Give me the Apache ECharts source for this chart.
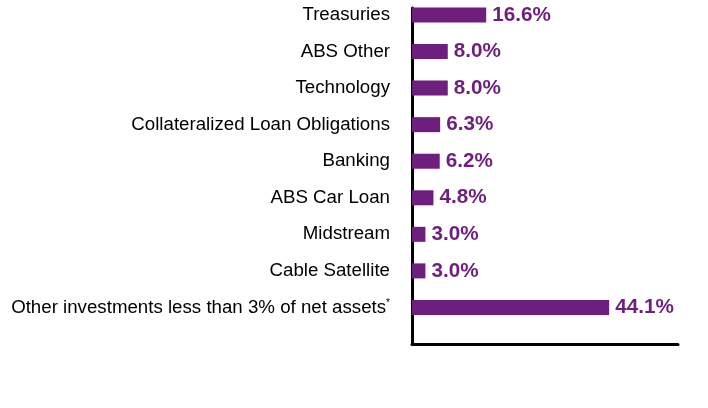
<!DOCTYPE html>
<html>
<head>
<meta charset="utf-8">
<script src="https://cdn.jsdelivr.net/npm/echarts@6/dist/echarts.min.js"></script>
<style>
  html, body { margin: 0; padding: 0; background: #fff; }
  #container { width: 708px; height: 408px; }
</style>
</head>
<body>
<div id="container"></div>
<script>
// holdings by sector, top to bottom
var categories = ['Treasuries', 'ABS Other', 'Technology', 'Collateralized Loan Obligations',
  'Banking', 'ABS Car Loan', 'Midstream', 'Cable Satellite',
  'Other investments less than 3% of net assets'];
var shares = [16.6, 8.0, 8.0, 6.3, 6.2, 4.8, 3.0, 3.0, 44.1];
var footnoted = ['Other investments less than 3% of net assets'];

var purple = '#6E1F7E';
var font = "'Liberation Sans', Arial, sans-serif";

// one empty slot at the bottom so the last bar sits a step above the x axis
var yData = categories.concat(['']);
var barData = shares.concat([null]);

var option = {
  animation: false,
  grid: [
    { left: 412, right: 30, top: 15, bottom: 64 },
    { left: 412, right: 30, top: 8, bottom: 64 }
  ],
  xAxis: [
    {
      type: 'value', gridIndex: 0, min: 0, max: 59.5,
      axisLine: { show: true, lineStyle: { color: '#000', width: 3 } },
      axisTick: { show: false }, axisLabel: { show: false },
      splitLine: { show: false }
    },
    { type: 'value', gridIndex: 1, show: false }
  ],
  yAxis: [
    {
      type: 'category', gridIndex: 0, inverse: true, boundaryGap: false,
      data: yData,
      axisLine: { show: true, lineStyle: { color: '#000', width: 3 } },
      axisTick: { show: false },
      axisLabel: {
        margin: 22, color: '#000', fontSize: 18.7, fontFamily: font,
        formatter: function (v) {
          return footnoted.indexOf(v) >= 0 ? v + '{sup|*}' : v;
        },
        rich: { sup: { fontSize: 10, fontFamily: font, color: '#000', padding: [0, 0, 9, 0] } }
      },
      splitLine: { show: false }
    },
    {
      // only draws the taller left axis line
      type: 'value', gridIndex: 1,
      axisLine: { show: true, lineStyle: { color: '#000', width: 3 } },
      axisTick: { show: false }, axisLabel: { show: false },
      splitLine: { show: false }
    }
  ],
  series: [{
    type: 'bar',
    xAxisIndex: 0, yAxisIndex: 0,
    data: barData,
    barWidth: 15,
    itemStyle: { color: purple },
    label: {
      show: true, position: 'right', distance: 6,
      color: purple, fontSize: 20.7, fontWeight: 'bold', fontFamily: font,
      formatter: function (p) { return p.value.toFixed(1) + '%'; }
    }
  }]
};

var myChart = echarts.init(document.getElementById('container'));
myChart.setOption(option);
</script>
</body>
</html>
